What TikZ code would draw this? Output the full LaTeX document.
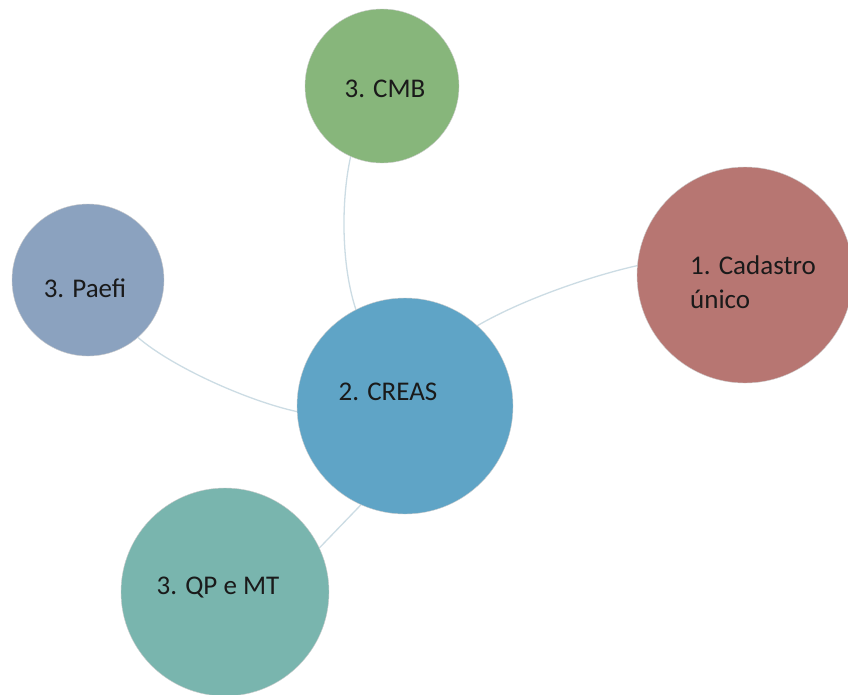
\documentclass[tikz,border=0pt]{standalone}
\usepackage{fontspec}
\setmainfont{Carlito}
\usetikzlibrary{backgrounds}
\definecolor{cmbgreen}{HTML}{87B67B}
\definecolor{cadred}{HTML}{B77672}
\definecolor{paefiblue}{HTML}{8BA2BF}
\definecolor{qpteal}{HTML}{79B5AE}
\definecolor{creasblue}{HTML}{5FA4C6}
\definecolor{connclr}{HTML}{CCDCE4}
\definecolor{txt}{HTML}{1A1A1A}
\tikzset{
  bubble/.style={circle, inner sep=0pt, outer sep=0pt, draw=white!60!gray, line width=0.4pt},
  lbl/.style={font=\fontsize{27}{34}\selectfont, text=txt, inner sep=0pt, anchor=base},
  conn/.style={draw=connclr, line width=1.3pt}
}
\begin{document}
\begin{tikzpicture}[x=1pt,y=-1pt]
\useasboundingbox (0,0) rectangle (848,694);
\clip (0,0) rectangle (848,694);
\node[bubble, fill=cmbgreen, minimum size=154pt] (cmb) at (382,86) {};
\node[bubble, fill=cadred, minimum size=216pt] (cad) at (745,275) {};
\node[bubble, fill=paefiblue, minimum size=152pt] (paefi) at (88,280) {};
\node[bubble, fill=qpteal, minimum size=208pt] (qp) at (225,592) {};
\node[bubble, fill=creasblue, minimum size=216pt] (creas) at (405,406) {};
\begin{pgfonlayer}{background}
\fill[white] (0,0) rectangle (848,694);
\draw[conn] (cmb.246) .. controls (341,200) and (341,265) .. (creas.117);
\draw[conn] (cad.175) .. controls (595,275) and (525,298) .. (creas.48);
\draw[conn] (paefi.311) .. controls (172,367) and (248,401) .. (creas.183);
\draw[conn] (qp.25) -- (creas.246);
\end{pgfonlayer}
\node[lbl] (tcmb) at (385,97) {3. CMB};
\node[lbl, anchor=base west] (tcad1) at (690,274) {1. Cadastro};
\node[lbl, anchor=base west] (tcad2) at (690,308) {único};
\node[lbl] (tpaefi) at (85,297) {3. Paefi};
\node[lbl] (tqp) at (218,594) {3. QP e MT};
\node[lbl] (tcreas) at (388,400) {2. CREAS};
\end{tikzpicture}
\end{document}
